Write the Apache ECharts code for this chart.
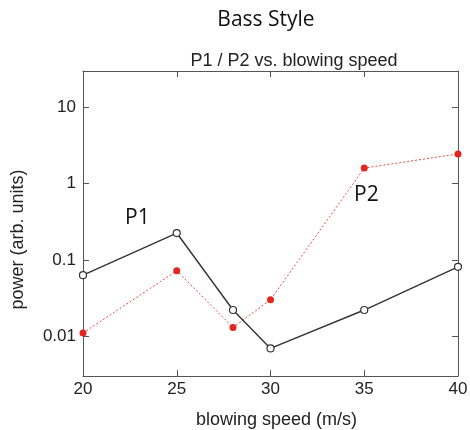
<!DOCTYPE html>
<html>
<head>
<meta charset="utf-8">
<script src="https://cdn.jsdelivr.net/npm/echarts@6/dist/echarts.min.js"></script>
<style>
  html, body { margin: 0; padding: 0; background: #fff; }
  #chart { width: 470px; height: 430px; }
</style>
</head>
<body>
<div id="chart"></div>
<script>
// 数据
const speedP1 = [20, 25, 28, 30, 35, 40]
const powerP1 = [0.063, 0.225, 0.022, 0.0069, 0.022, 0.081]
const speedP2 = [20, 25, 28, 30, 35, 40]
const powerP2 = [0.011, 0.072, 0.013, 0.030, 1.6, 2.45]

const labelFont = 'Liberation Sans, Arial, sans-serif'
const boxColor = '#555'

const pairs = (xs, ys) => xs.map((x, i) => [x, ys[i]])

const fmtLog = (v) => String(+Number(v).toPrecision(3))

const dom = document.getElementById('chart')
const chart = echarts.init(dom)

const option = {
  animation: false,
  title: [
    {
      text: 'Bass Style',
      left: 261,
      top: 5,
      textAlign: 'center',
      textStyle: { fontFamily: 'Open Sans, sans-serif', fontSize: 21, fontWeight: 'normal', color: '#111' }
    },
    {
      text: 'P1 / P2 vs. blowing speed',
      left: 289,
      top: 47,
      textAlign: 'center',
      textStyle: { fontFamily: labelFont, fontSize: 18, fontWeight: 'normal', color: '#222' }
    }
  ],
  grid: {
    left: 83,
    right: 12,
    top: 71,
    bottom: 54,
    containLabel: false,
    outerBoundsMode: 'none'
  },
  xAxis: [
    {
      type: 'value',
      min: 20,
      max: 40,
      interval: 5,
      name: 'blowing speed (m/s)',
      nameLocation: 'middle',
      nameGap: 35,
      nameTextStyle: { fontFamily: labelFont, fontSize: 18, color: '#222', padding: [0, 0, 0, 12] },
      axisLine: { show: true, lineStyle: { color: boxColor, width: 1 } },
      axisTick: { show: true, inside: true, length: 6, lineStyle: { color: boxColor } },
      axisLabel: { fontFamily: labelFont, fontSize: 17, color: '#222', margin: 5 },
      splitLine: { show: false }
    },
    {
      type: 'value',
      position: 'top',
      min: 20,
      max: 40,
      interval: 5,
      axisLine: { show: true, lineStyle: { color: boxColor, width: 1 } },
      axisTick: { show: true, inside: true, length: 6, lineStyle: { color: boxColor } },
      axisLabel: { show: false },
      splitLine: { show: false }
    }
  ],
  yAxis: [
    {
      type: 'log',
      logBase: 10,
      min: 0.003,
      max: 30,
      name: 'power (arb. units)',
      nameLocation: 'middle',
      nameRotate: 90,
      nameGap: 56,
      nameTextStyle: { fontFamily: labelFont, fontSize: 18, color: '#222', padding: [0, 32, 0, 0] },
      axisLine: { show: true, lineStyle: { color: boxColor, width: 1 } },
      axisTick: { show: true, inside: true, length: 6, lineStyle: { color: boxColor } },
      axisLabel: {
        fontFamily: labelFont, fontSize: 17, color: '#222', margin: 7,
        showMinLabel: false, showMaxLabel: false,
        formatter: fmtLog
      },
      splitLine: { show: false },
      minorTick: { show: false }
    },
    {
      type: 'log',
      logBase: 10,
      min: 0.003,
      max: 30,
      position: 'right',
      axisLine: { show: true, lineStyle: { color: boxColor, width: 1 } },
      axisTick: { show: true, inside: true, length: 6, lineStyle: { color: boxColor } },
      axisLabel: { show: false },
      splitLine: { show: false }
    }
  ],
  graphic: [
    {
      type: 'text',
      left: 125,
      top: 208,
      style: { text: 'P1', font: '21px "Open Sans", sans-serif', fill: '#111' }
    },
    {
      type: 'text',
      left: 354,
      top: 185,
      style: { text: 'P2', font: '21px "Open Sans", sans-serif', fill: '#111' }
    }
  ],
  series: [
    {
      name: 'P1',
      type: 'line',
      xAxisIndex: 0,
      yAxisIndex: 0,
      data: pairs(speedP1, powerP1),
      symbol: 'circle',
      symbolSize: 7,
      itemStyle: { color: '#fff', borderColor: '#333', borderWidth: 1.2 },
      lineStyle: { color: '#333', width: 1.4, type: 'solid' },
      z: 3
    },
    {
      name: 'P2',
      type: 'line',
      xAxisIndex: 0,
      yAxisIndex: 0,
      data: pairs(speedP2, powerP2),
      symbol: 'circle',
      symbolSize: 7,
      itemStyle: { color: '#e3261f', borderWidth: 0 },
      lineStyle: { color: '#ee4a44', width: 1, type: [2, 2] },
      z: 2
    }
  ]
}

option && chart.setOption(option)
</script>
</body>
</html>
